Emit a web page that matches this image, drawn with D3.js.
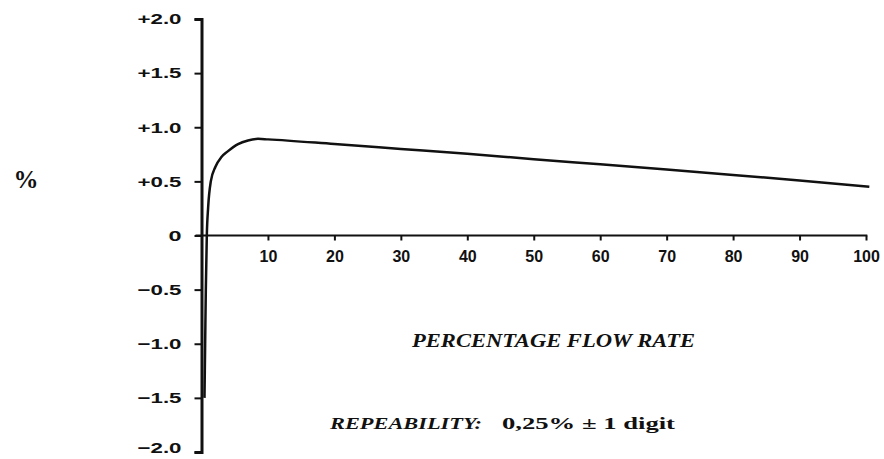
<!DOCTYPE html>
<html>
<head>
<meta charset="utf-8">
<script src="https://cdn.jsdelivr.net/npm/d3@7"></script>
<style>
  html, body { margin: 0; padding: 0; background: #fff; }
  svg { display: block; }
</style>
</head>
<body>
<svg id="chart" width="884" height="459"></svg>
<script>
// ---- data ----
const flowRate = [0.45, 0.55, 0.65, 0.8, 1.0, 1.4, 2.1, 3.0, 3.9, 5.5, 7.0, 8.5, 10, 20, 30, 40, 50, 60, 70, 80, 90, 100.5];
const errorPct = [-1.5, -1.0, -0.5, 0.0, 0.26, 0.5, 0.635, 0.725, 0.775, 0.845, 0.878, 0.893, 0.888, 0.845, 0.80, 0.755, 0.705, 0.658, 0.61, 0.56, 0.508, 0.45];
const xTicks = [10, 20, 30, 40, 50, 60, 70, 80, 90, 100];
const yTicks = [2.0, 1.5, 1.0, 0.5, 0, -0.5, -1.0, -1.5, -2.0];
const yTickLabels = ["+2.0", "+1.5", "+1.0", "+0.5", "0", "\u22120.5", "\u22121.0", "\u22121.5", "\u22122.0"];
const yUnit = "%";
const xTitle = "PERCENTAGE  FLOW  RATE";
const repLabel = "REPEABILITY:";
const repValue = "0,25%  \u00b1  1  digit";

// ---- layout ----
const svg = d3.select("#chart");
const x = d3.scaleLinear().domain([0, 100]).range([201.5, 866]);
const y = d3.scaleLinear().domain([-2, 2]).range([452, 19]);

svg.append("rect").attr("width", 884).attr("height", 459).attr("fill", "#fff");

// x axis
const gx = svg.append("g")
  .attr("transform", `translate(0,${y(0)})`)
  .call(d3.axisBottom(x).tickValues(xTicks).tickSize(5).tickSizeOuter(0).tickPadding(10));
gx.select(".domain").attr("d", `M${x(-0.9)},0H${x(100.2)}`).attr("stroke", "#111").attr("stroke-width", 2);
gx.selectAll(".tick line").attr("stroke", "#111").attr("stroke-width", 2);
gx.selectAll(".tick text")
  .attr("fill", "#111")
  .attr("font-family", "'Liberation Sans', Arial, sans-serif")
  .attr("font-weight", "bold")
  .attr("font-size", 16);

// y axis
const gy = svg.append("g")
  .attr("transform", `translate(${x(0)},0)`)
  .call(d3.axisLeft(y).tickValues(yTicks).tickSize(7).tickSizeOuter(7).tickPadding(13)
    .tickFormat((d, i) => yTickLabels[i]));
gy.select(".domain").attr("stroke", "#111").attr("stroke-width", 3);
gy.selectAll(".tick line").attr("stroke", "#111").attr("stroke-width", 2);
gy.selectAll(".tick text")
  .attr("fill", "#111")
  .attr("font-family", "'Liberation Sans', Arial, sans-serif")
  .attr("font-weight", "bold")
  .attr("font-size", 15)
  .attr("y", d => d === -2 ? -4 : 0)
  .attr("textLength", (d, i) => yTickLabels[i].length > 1 ? 44 : 13)
  .attr("lengthAdjust", "spacingAndGlyphs");

// curve
const pts = flowRate.map((f, i) => [f, errorPct[i]]);
const line = d3.line().x(d => x(d[0])).y(d => y(d[1])).curve(d3.curveMonotoneX);
svg.append("path")
  .datum(pts)
  .attr("d", line)
  .attr("fill", "none")
  .attr("stroke", "#111")
  .attr("stroke-width", 2.5)
  .attr("stroke-linejoin", "round");

// texts
svg.append("text")
  .attr("x", 26).attr("y", 188)
  .attr("text-anchor", "middle")
  .attr("font-family", "'Liberation Serif', 'Times New Roman', serif")
  .attr("font-weight", "bold")
  .attr("font-size", 25)
  .attr("fill", "#111")
  .text(yUnit);

svg.append("text")
  .attr("x", 412).attr("y", 347)
  .attr("font-family", "'Liberation Serif', 'Times New Roman', serif")
  .attr("font-weight", "bold")
  .attr("font-style", "italic")
  .attr("font-size", 18)
  .attr("fill", "#111")
  .attr("textLength", 283)
  .attr("lengthAdjust", "spacingAndGlyphs")
  .text(xTitle);

svg.append("text")
  .attr("x", 330).attr("y", 429)
  .attr("font-family", "'Liberation Serif', 'Times New Roman', serif")
  .attr("font-weight", "bold")
  .attr("font-style", "italic")
  .attr("font-size", 17)
  .attr("fill", "#111")
  .attr("textLength", 152)
  .attr("lengthAdjust", "spacingAndGlyphs")
  .text(repLabel);

svg.append("text")
  .attr("x", 502).attr("y", 429)
  .attr("font-family", "'Liberation Serif', 'Times New Roman', serif")
  .attr("font-weight", "bold")
  .attr("font-size", 17)
  .attr("fill", "#111")
  .attr("textLength", 173)
  .attr("lengthAdjust", "spacingAndGlyphs")
  .text(repValue);
</script>
</body>
</html>
